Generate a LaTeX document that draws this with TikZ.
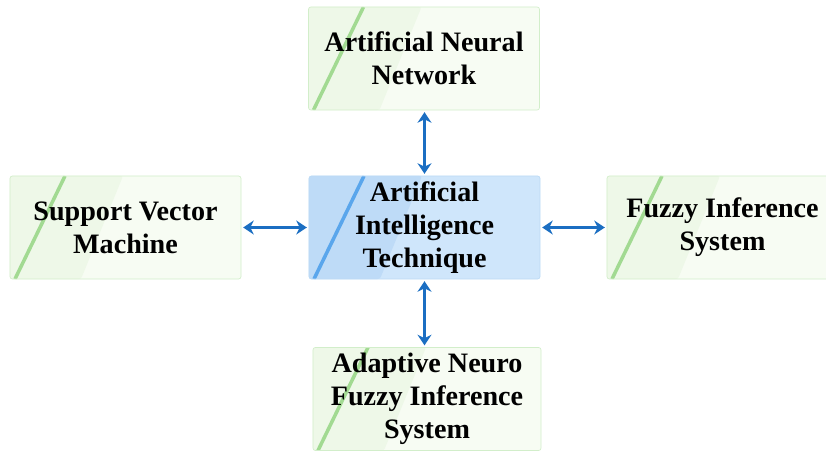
\documentclass[tikz,border=0pt]{standalone}
\usepackage{fontspec}
\setmainfont{Liberation Serif}
\usetikzlibrary{arrows.meta}

\definecolor{fillgreen}{HTML}{F7FCF3}
\definecolor{shadegreen}{HTML}{EEF8E8}
\definecolor{stripegreen}{HTML}{A2DA92}
\definecolor{edgegreen}{HTML}{D2EECA}
\definecolor{fillblue}{HTML}{CFE6FB}
\definecolor{shadeblue}{HTML}{BEDBF7}
\definecolor{stripeblue}{HTML}{5AA6EC}
\definecolor{edgeblue}{HTML}{BCDAF5}
\definecolor{linkblue}{HTML}{1B6EC2}

\begin{document}
\begin{tikzpicture}[
        x=0.03cm, y=-0.03cm,
        panel/.style n args={3}{rectangle, rounded corners=2pt, fill=#1,
            line width=0.6pt, minimum width=6.93cm, minimum height=3.09cm,
            inner sep=0pt, align=center, font=\fontsize{24}{28}\selectfont\bfseries,
            path picture={
                \fill[#2] (path picture bounding box.south west) -- ++(2.13cm,0)
                    -- ([xshift=3.39cm]path picture bounding box.north west)
                    -- (path picture bounding box.north west) -- cycle;
                \draw[#3, line width=3pt] ([xshift=0.15cm]path picture bounding box.south west)
                    -- ([xshift=1.65cm]path picture bounding box.north west);
            }},
        box/.style={panel={fillgreen}{shadegreen}{stripegreen}, draw=edgegreen},
        mainbox/.style={panel={fillblue}{shadeblue}{stripeblue}, draw=edgeblue},
        link/.style={<->, draw=linkblue, line width=3.3pt, shorten <=1.5pt, shorten >=1.5pt},
        >={Stealth[length=3.2mm,width=4.2mm]}
    ]
    \useasboundingbox (0,0) rectangle (826,451);
    \clip (0,0) rectangle (826,451);

    % centre and the four techniques
    \node[mainbox] (ait) at (424.5,227.5) {Artificial\\Intelligence\\Technique};
    \node[box] (ann) at (424,58.5) {Artificial Neural\\Network};
    \node[box] (svm) at (125.5,227.5) {Support Vector\\Machine};
    \node[box] (fis) at (722.5,227.5) {Fuzzy Inference\\System};
    \node[box, minimum width=6.84cm] (anfis) at (427,399) {Adaptive Neuro\\Fuzzy Inference\\System};

    % links
    \draw[link] (svm.east) -- (ait.west);
    \draw[link] (ait.east) -- (fis.west);
    \draw[link] (ait.north) -- (ann.south -| ait.north);
    \draw[link] (ait.south) -- (ait.south |- anfis.north);
\end{tikzpicture}
\end{document}
